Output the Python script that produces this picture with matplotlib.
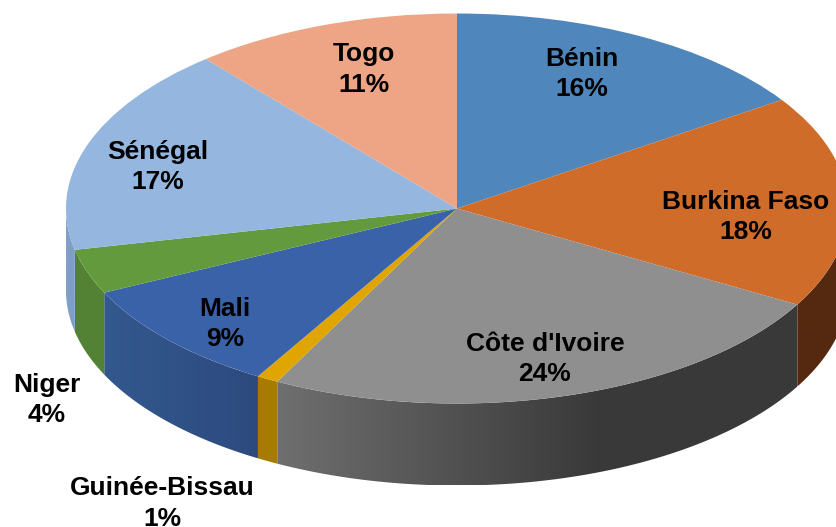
import numpy as np
import matplotlib
matplotlib.use('Agg')
import matplotlib.pyplot as plt
from matplotlib.colors import to_rgb
from matplotlib.patches import Polygon

# slice order is clockwise from 12 o'clock
countries = ['Bénin', 'Burkina Faso', "Côte d'Ivoire", 'Guinée-Bissau', 'Mali', 'Niger', 'Sénégal', 'Togo']
shares = [15.6, 17.6, 24.4, 0.9, 9.4, 3.7, 17.3, 11.1]
pct_labels = ['16%', '18%', '24%', '1%', '9%', '4%', '17%', '11%']

top_colors = ['#4f87bd', '#cf6c29', '#8f8f8f', '#e0a500', '#3a62a9', '#639a3d', '#95b6df', '#eda585']
side_left = ['#355a7e', '#55290f', '#707070', '#a67c00', '#33598f', '#538235', '#7f9fc6', '#9e6e58']
side_right = ['#355a7e', '#55290f', '#393939', '#a67c00', '#2d4a7e', '#538235', '#7f9fc6', '#9e6e58']

# label centres in pixels
label_x = [582, 746, 545, 162, 225, 47, 158, 364]
label_y = [74, 217, 359, 503.5, 324, 400, 167, 69.5]

W, H = 837, 527
cx, cy, rx, ry, depth = 457, 208.5, 391, 195, 82

plt.rcParams['font.family'] = ['Liberation Sans', 'DejaVu Sans']

fig = plt.figure(figsize=(W/100, H/100), dpi=100)
ax = fig.add_axes([0, 0, 1, 1])
ax.axis('off')

d = depth/ry
shares = np.array(shares)
edges = np.radians(90 - 360*np.concatenate([[0], np.cumsum(shares)])/shares.sum())

# walls first, then the top goes over them
for i in range(len(shares)):
    th = np.linspace(edges[i], edges[i+1], 200)
    th = th[np.sin(th) < 0.02]
    if len(th) < 2:
        continue
    px = np.cos(th)
    py = np.sin(th)
    outline = np.column_stack([np.r_[px, px[::-1]], np.r_[py, py[::-1]-d]])
    # horizontal shade, the long slices get darker towards the right
    xpix = np.linspace(cx + rx*px.min(), cx + rx*px.max(), 256)
    if i == 4:
        t = np.clip((xpix-100)/(260-100), 0, 1)
    else:
        t = np.clip((xpix-270)/(600-270), 0, 1)
    c_l, c_r = np.array(to_rgb(side_left[i])), np.array(to_rgb(side_right[i]))
    grad = np.outer(1-t, c_l) + np.outer(t, c_r)
    img = ax.imshow(grad[None, :, :], extent=[px.min(), px.max(), outline[:, 1].min(), outline[:, 1].max()],
                    aspect='auto', interpolation='bilinear', zorder=1)
    clip = Polygon(outline, closed=True, transform=ax.transData, fc='none', ec='none')
    ax.add_patch(clip)
    img.set_clip_path(clip)

wedges, _ = ax.pie(shares, colors=top_colors, startangle=90, counterclock=False, radius=1,
                   wedgeprops={'linewidth': 0})
for w in wedges:
    w.set_zorder(2)

ax.set_aspect('auto')
ax.set_xlim(-cx/rx, (W-cx)/rx)
ax.set_ylim((cy-H)/ry, cy/ry)

for name, pct, x, y in zip(countries, pct_labels, label_x, label_y):
    fig.text(x/W, 1-y/H, name + '\n' + pct, ha='center', va='center', fontsize=19,
             fontweight='bold', color='black', linespacing=1.32)

fig.savefig('out.png', dpi=100)
